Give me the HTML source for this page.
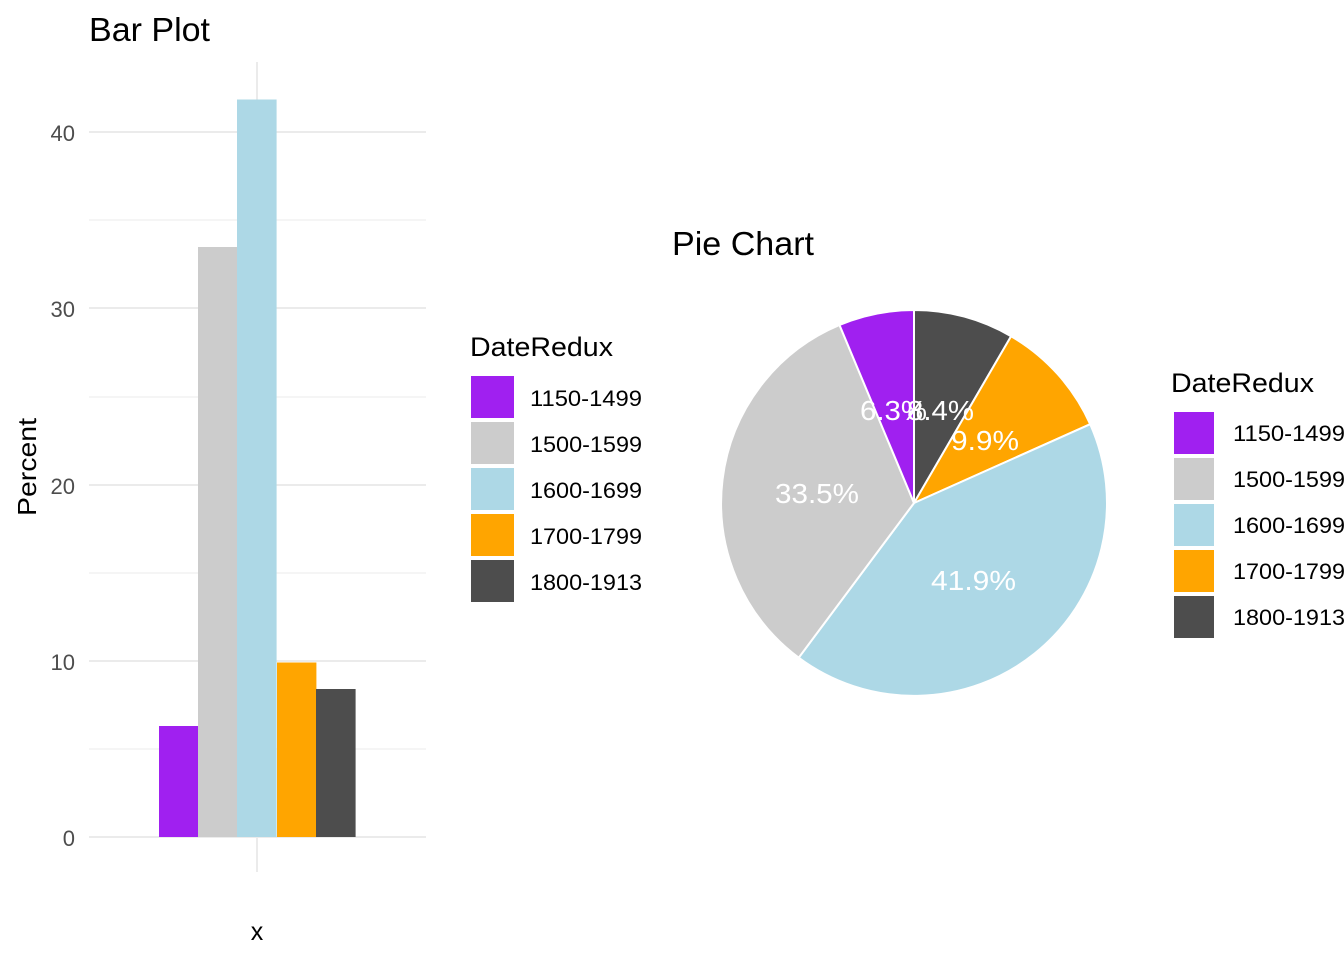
<!DOCTYPE html>
<html><head><meta charset="utf-8"><style>body{margin:0;background:#fff}svg{display:block}</style></head><body>
<svg width="1344" height="960" xmlns="http://www.w3.org/2000/svg" font-family="Liberation Sans, Arial, sans-serif">
<rect width="1344" height="960" fill="#fff"/>
<text x="89" y="41" font-size="33" fill="#000" textLength="121" lengthAdjust="spacingAndGlyphs">Bar Plot</text>
<g stroke="#ebebeb" stroke-width="1">
<line x1="89" x2="426" y1="749" y2="749"/><line x1="89" x2="426" y1="573" y2="573"/><line x1="89" x2="426" y1="397" y2="397"/><line x1="89" x2="426" y1="220" y2="220"/>
</g>
<g stroke="#ebebeb" stroke-width="2">
<line x1="89" x2="426" y1="837" y2="837"/><line x1="89" x2="426" y1="661" y2="661"/><line x1="89" x2="426" y1="485" y2="485"/><line x1="89" x2="426" y1="308" y2="308"/><line x1="89" x2="426" y1="132" y2="132"/>
<line x1="257" x2="257" y1="62" y2="872"/>
</g>
<rect x="159" y="726" width="39.4" height="111" fill="#a020f0"/>
<rect x="198" y="247" width="39.4" height="590" fill="#cccccc"/>
<rect x="237" y="99.5" width="39.6" height="737.5" fill="#add8e6"/>
<rect x="277" y="662.5" width="39.4" height="174.5" fill="#ffa500"/>
<rect x="316" y="689" width="39.6" height="148" fill="#4d4d4d"/>
<g font-size="22" fill="#4d4d4d" text-anchor="end">
<text x="75" y="846">0</text><text x="75" y="670">10</text><text x="75" y="494">20</text><text x="75" y="317">30</text><text x="75" y="141">40</text>
</g>
<text x="257" y="940" font-size="25" text-anchor="middle">x</text>
<text transform="translate(36,467) rotate(-90)" font-size="26" text-anchor="middle" textLength="98" lengthAdjust="spacingAndGlyphs">Percent</text>

<text x="470" y="356" font-size="27" textLength="143" lengthAdjust="spacingAndGlyphs">DateRedux</text>
<g>
<rect x="471" y="376" width="43" height="42" fill="#a020f0"/>
<rect x="471" y="422" width="43" height="42" fill="#cccccc"/>
<rect x="471" y="468" width="43" height="42" fill="#add8e6"/>
<rect x="471" y="514" width="43" height="42" fill="#ffa500"/>
<rect x="471" y="560" width="43" height="42" fill="#4d4d4d"/>
</g>
<g font-size="22" fill="#000">
<text x="530" y="406" textLength="112" lengthAdjust="spacingAndGlyphs">1150-1499</text><text x="530" y="452" textLength="112" lengthAdjust="spacingAndGlyphs">1500-1599</text><text x="530" y="498" textLength="112" lengthAdjust="spacingAndGlyphs">1600-1699</text><text x="530" y="544" textLength="112" lengthAdjust="spacingAndGlyphs">1700-1799</text><text x="530" y="590" textLength="112" lengthAdjust="spacingAndGlyphs">1800-1913</text>
</g>

<text x="672" y="255" font-size="33" textLength="142" lengthAdjust="spacingAndGlyphs">Pie Chart</text>
<g stroke="#fff" stroke-width="2">
<path d="M914,503 L914,310 A193,193 0 0 1 1011.1,336.2 Z" fill="#4d4d4d"/>
<path d="M914,503 L1011.1,336.2 A193,193 0 0 1 1090.2,424.2 Z" fill="#ffa500"/>
<path d="M914,503 L1090.2,424.2 A193,193 0 0 1 798.7,657.7 Z" fill="#add8e6"/>
<path d="M914,503 L798.7,657.7 A193,193 0 0 1 839.5,325 Z" fill="#cccccc"/>
<path d="M914,503 L839.5,325 A193,193 0 0 1 914,310 Z" fill="#a020f0"/>
</g>
<g font-size="28" fill="#fff">
<text x="860" y="420" textLength="67" lengthAdjust="spacingAndGlyphs">6.3%</text><text x="907" y="420" textLength="67" lengthAdjust="spacingAndGlyphs">8.4%</text><text x="951" y="450" textLength="68" lengthAdjust="spacingAndGlyphs">9.9%</text><text x="775" y="503" textLength="84" lengthAdjust="spacingAndGlyphs">33.5%</text><text x="931" y="590" textLength="85" lengthAdjust="spacingAndGlyphs">41.9%</text>
</g>

<text x="1171" y="392" font-size="27" textLength="143" lengthAdjust="spacingAndGlyphs">DateRedux</text>
<g>
<rect x="1174" y="412" width="40" height="42" fill="#a020f0"/>
<rect x="1174" y="458" width="40" height="42" fill="#cccccc"/>
<rect x="1174" y="504" width="40" height="42" fill="#add8e6"/>
<rect x="1174" y="550" width="40" height="42" fill="#ffa500"/>
<rect x="1174" y="596" width="40" height="42" fill="#4d4d4d"/>
</g>
<g font-size="22" fill="#000">
<text x="1233" y="441" textLength="112" lengthAdjust="spacingAndGlyphs">1150-1499</text><text x="1233" y="487" textLength="112" lengthAdjust="spacingAndGlyphs">1500-1599</text><text x="1233" y="533" textLength="112" lengthAdjust="spacingAndGlyphs">1600-1699</text><text x="1233" y="579" textLength="112" lengthAdjust="spacingAndGlyphs">1700-1799</text><text x="1233" y="625" textLength="112" lengthAdjust="spacingAndGlyphs">1800-1913</text>
</g>
</svg>
</body></html>
